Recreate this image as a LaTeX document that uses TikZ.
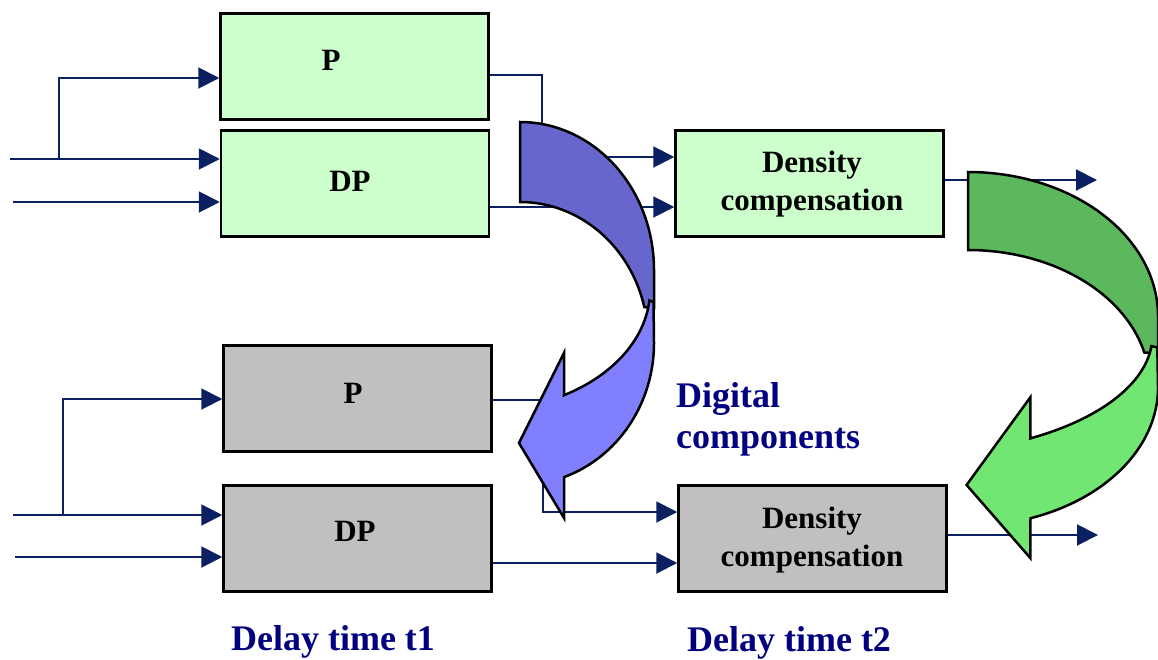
\documentclass[tikz,border=0pt]{standalone}
\usepackage{fontspec}
\setmainfont{Liberation Serif}
\usetikzlibrary{arrows.meta}
\definecolor{wire}{HTML}{0A2060}
\definecolor{navytext}{HTML}{000080}
\definecolor{mint}{HTML}{CCFFCC}
\definecolor{greybox}{HTML}{C0C0C0}
\definecolor{bluedark}{HTML}{6666CC}
\definecolor{bluelight}{HTML}{8080FF}
\definecolor{greendark}{HTML}{5CB85C}
\definecolor{greenlight}{HTML}{72E672}
\tikzset{
  block/.style={draw=black, line width=2.5pt, minimum width=268pt, minimum height=106pt, inner sep=0pt},
  newblock/.style={block, fill=mint},
  oldblock/.style={block, fill=greybox},
  wireline/.style={draw=wire, line width=2pt},
  conn/.style={wireline, -{Triangle[length=21pt,width=21pt]}},
  boxlabel/.style={font=\fontsize{31}{38}\selectfont\bfseries, inner sep=0pt, align=center},
  bluelabel/.style={font=\fontsize{36}{41}\selectfont\bfseries, text=navytext, inner sep=0pt},
  bentarrow/.style={draw=black, line width=2.5pt},
}
% curved "hand-over" arrow, local frame: origin at the upper corner of the tail
\newcommand{\bentbackpath}{%
  (0,0) -- plot[domain=90:0, samples=60] ({134*cos(\x)},{148-148*sin(\x)})
  -- (134,186)
  -- plot[domain=13.8:90, samples=60] ({128*cos(\x)},{218-138*sin(\x)}) -- cycle}
\newcommand{\bentfrontpath}{%
  (133.5,180) -- (134,221)
  -- plot[domain=0:-70.8, samples=60] ({134*cos(\x)},{221-142*sin(\x)})
  -- (44,396) -- (-1,321) -- (44,231) -- (44,273)
  -- plot[domain=-60.4:-5, samples=60] ({-40+170*cos(\x)},{168-121*sin(\x)}) -- cycle}
\begin{document}
\begin{tikzpicture}[x=1pt, y=-1pt]
\useasboundingbox (0,0) rectangle (1158,659);

% processing blocks
\node[newblock] (tP)  at (354.5,66.5)  {};
\node[newblock] (tDP) at (355,183.5)   {};
\node[newblock] (tDC) at (809.5,183.5) {};
\node[oldblock] (bP)  at (357.5,398.5) {};
\node[oldblock] (bDP) at (357.5,538.5) {};
\node[oldblock] (bDC) at (812.5,538.5) {};

% block labels
\node[boxlabel, anchor=base] (tPl)  at (331,70)  {P};
\node[boxlabel, anchor=base] (tDPl) at (350,191) {DP};
\node[boxlabel] (tDCl) at (812,184) {Density\\compensation};
\node[boxlabel, anchor=base] (bPl)  at (353,403) {P};
\node[boxlabel, anchor=base] (bDPl) at (355,541) {DP};
\node[boxlabel] (bDCl) at (812,540) {Density\\compensation};

% wiring points
\coordinate (a1) at (10,159);
\coordinate (a2) at (13,202);
\coordinate (j1) at (59,159);
\coordinate (k1) at (59,78);
\coordinate (p1) at (542,75);
\coordinate (p2) at (542,157);
\coordinate (q1) at (600,207);
\coordinate (o1) at (1097,180);
\coordinate (c1) at (13,515);
\coordinate (c2) at (15,557);
\coordinate (j2) at (63,515);
\coordinate (k2) at (63,399);
\coordinate (r1) at (543,400);
\coordinate (r2) at (543,512);
\coordinate (s1) at (600,563);
\coordinate (o2) at (1098,535);

% upper chain
\draw[conn] (a1) -- (tDP.west |- a1);
\draw[conn] (a2) -- (tDP.west |- a2);
\draw[conn] (j1) -- (k1) -- (tP.west |- k1);
\draw[conn] (tP.east |- p1) -- (p1) -- (p2) -- (tDC.west |- p2);
\draw[conn] (tDP.east |- q1) -- (tDC.west |- q1);
\draw[conn] (tDC.east |- o1) -- (o1);

% lower chain
\draw[conn] (c1) -- (bDP.west |- c1);
\draw[conn] (c2) -- (bDP.west |- c2);
\draw[conn] (j2) -- (k2) -- (bP.west |- k2);
\draw[conn] (bP.east |- r1) -- (r1) -- (r2) -- (bDC.west |- r2);
\draw[conn] (bDP.east |- s1) -- (bDC.west |- s1);
\draw[conn] (bDC.east |- o2) -- (o2);

% blue curved arrow
\begin{scope}[shift={(520,122)}]
  \filldraw[bentarrow, fill=bluedark] \bentbackpath;
  \filldraw[bentarrow, fill=bluelight] \bentfrontpath;
\end{scope}

% green curved arrow
\begin{scope}[shift={(968,172)}, xscale=1.418, yscale=0.975]
  \filldraw[bentarrow, fill=greendark] \bentbackpath;
  \filldraw[bentarrow, fill=greenlight] \bentfrontpath;
\end{scope}

% captions
\node[bluelabel, align=left, anchor=west] (dig) at (676,419) {Digital\\components};
\node[bluelabel, anchor=base] (d1) at (333,650) {Delay time t1};
\node[bluelabel, anchor=base] (d2) at (789,651) {Delay time t2};
\end{tikzpicture}
\end{document}
